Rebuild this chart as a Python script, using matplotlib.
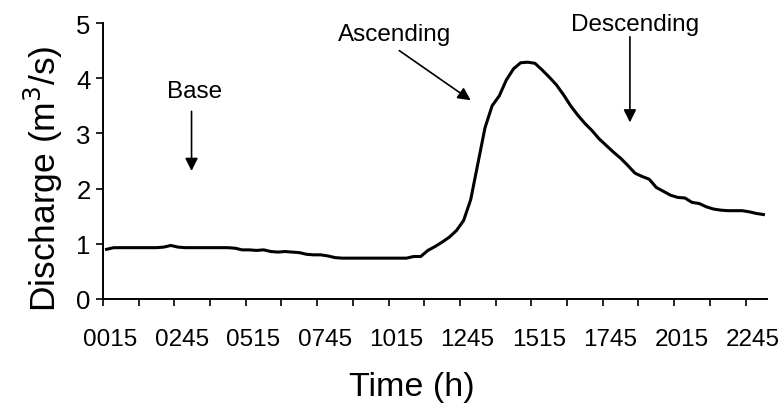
import matplotlib
matplotlib.use("Agg")
import matplotlib.pyplot as plt
import matplotlib.transforms as mtransforms
import numpy as np

plt.rcParams["font.family"] = ["Liberation Sans", "DejaVu Sans"]

# discharge every 15 min, 0015 .. 2315 (m3/s)
discharge = [
    0.90, 0.93, 0.93, 0.93, 0.93, 0.93, 0.93, 0.93, 0.94, 0.97,
    0.94, 0.93, 0.93, 0.93, 0.93, 0.93, 0.93, 0.93, 0.92, 0.89,
    0.89, 0.88, 0.89, 0.86, 0.85, 0.86, 0.85, 0.84, 0.81, 0.80,
    0.80, 0.78, 0.75, 0.74, 0.74, 0.74, 0.74, 0.74, 0.74, 0.74,
    0.74, 0.74, 0.74, 0.77, 0.77, 0.88, 0.95, 1.03, 1.12, 1.24,
    1.42, 1.80, 2.45, 3.10, 3.50, 3.68, 3.97, 4.17, 4.28, 4.29,
    4.27, 4.15, 4.02, 3.88, 3.70, 3.50, 3.33, 3.18, 3.05, 2.90,
    2.78, 2.66, 2.55, 2.42, 2.28, 2.22, 2.17, 2.02, 1.95, 1.88,
    1.84, 1.83, 1.75, 1.73, 1.67, 1.63, 1.61, 1.60, 1.60, 1.60,
    1.58, 1.55, 1.53,
]
tick_labels = ["0015", "0245", "0515", "0745", "1015",
               "1245", "1515", "1745", "2015", "2245"]

n = len(discharge)
x = np.arange(n)

fig = plt.figure(figsize=(7.8, 4.1), dpi=100)
ax = fig.add_axes([103 / 780, 110 / 410, 664 / 780, 276 / 410])

ax.plot(x, discharge, color="black", lw=2.2, solid_joinstyle="round")

ax.set_xlim(-0.5, n - 0.5)
ax.set_ylim(0, 5)
ax.set_yticks(range(6))

# tick marks between categories, labels every 10th category
ax.set_xticks(np.arange(-0.5, n - 1, 5))
ax.set_xticklabels([])
ax.set_xticks(np.arange(0, n, 10), minor=True)
ax.set_xticklabels(tick_labels, minor=True)
ax.tick_params(axis="x", which="major", direction="out", length=5, width=1.2)
ax.tick_params(axis="x", which="minor", length=0, pad=21, labelsize=17.5)
ax.tick_params(axis="y", direction="out", length=5, width=1.2, pad=4, labelsize=18.5)
shift = mtransforms.ScaledTranslation(0.04, 0, fig.dpi_scale_trans)
for lbl in ax.get_xticklabels(minor=True):
    lbl.set_transform(lbl.get_transform() + shift)

for s in ["top", "right"]:
    ax.spines[s].set_visible(False)
for s in ["left", "bottom"]:
    ax.spines[s].set_linewidth(1.4)

ax.set_xlabel("Time (h)", fontsize=24.5, labelpad=15, x=0.465)
ax.set_ylabel("Discharge (m$^3$/s)", fontsize=25.5, labelpad=8, y=0.44)

arrow = dict(arrowstyle="-|>", color="black", lw=1.2, mutation_scale=19,
             shrinkA=0, shrinkB=0)
ax.annotate("", xy=(11.9, 2.32), xytext=(11.9, 3.4), arrowprops=arrow)
ax.text(12.3, 3.76, "Base", fontsize=17.5, ha="center", va="center")
ax.annotate("", xy=(51.0, 3.6), xytext=(41.0, 4.5), arrowprops=arrow)
ax.text(40.4, 4.8, "Ascending", fontsize=17.5, ha="center", va="center")
ax.annotate("", xy=(73.3, 3.2), xytext=(73.3, 4.75), arrowprops=arrow)
ax.text(74.0, 4.98, "Descending", fontsize=17.5, ha="center", va="center")

fig.savefig("out.png", dpi=100)
